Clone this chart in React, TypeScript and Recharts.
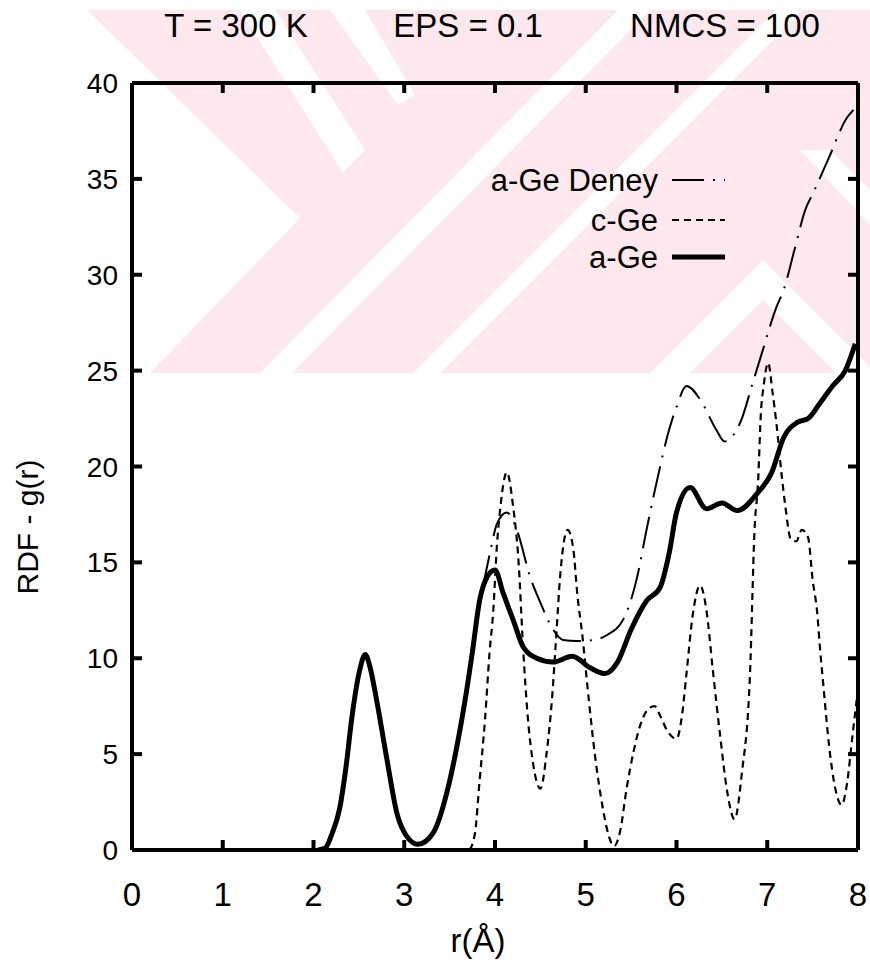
import React from 'react';
import { LineChart, Line, XAxis, YAxis, ReferenceLine } from 'recharts';

// tick values
const xTicks = [0, 1, 2, 3, 4, 5, 6, 7, 8];
const yTicks = [0, 5, 10, 15, 20, 25, 30, 35, 40];

// a-Ge (simulation, thick solid)
const aGeR = [2.05, 2.13, 2.2, 2.29, 2.36, 2.42, 2.51, 2.57, 2.63, 2.7, 2.81, 2.92, 3.03, 3.15, 3.32, 3.47, 3.58, 3.67, 3.75, 3.83, 3.92, 4.0, 4.09, 4.2, 4.31, 4.46, 4.64, 4.85, 5.05, 5.21, 5.35, 5.5, 5.67, 5.82, 5.92, 6.0, 6.15, 6.33, 6.5, 6.67, 6.89, 7.05, 7.18, 7.33, 7.45, 7.58, 7.72, 7.86, 7.97];
const aGeG = [0, 0.1, 0.8, 2.2, 4.4, 6.8, 9.4, 10.2, 9.4, 7.7, 4.7, 1.9, 0.7, 0.3, 0.9, 3.0, 5.4, 7.8, 10.3, 13.0, 14.3, 14.6, 13.4, 12.0, 10.6, 10.0, 9.8, 10.1, 9.5, 9.2, 9.8, 11.5, 13.0, 13.7, 15.5, 17.6, 18.9, 17.8, 18.1, 17.7, 18.6, 19.7, 21.5, 22.3, 22.5, 23.3, 24.2, 25.0, 26.4];

// a-Ge Deney (experiment, long dash)
const deneyR = [2.05, 2.13, 2.2, 2.29, 2.36, 2.42, 2.51, 2.57, 2.63, 2.7, 2.81, 2.92, 3.03, 3.15, 3.32, 3.47, 3.58, 3.67, 3.75, 3.83, 3.9, 3.95, 4.02, 4.13, 4.24, 4.39, 4.5, 4.64, 4.75, 4.9, 5.08, 5.23, 5.41, 5.56, 5.67, 5.74, 5.82, 5.9, 6.0, 6.11, 6.26, 6.44, 6.53, 6.62, 6.72, 6.83, 6.94, 7.1, 7.18, 7.3, 7.42, 7.51, 7.67, 7.88, 7.95];
const deneyG = [0, 0.1, 0.8, 2.2, 4.4, 6.8, 9.4, 10.1, 9.4, 7.8, 4.8, 2.0, 0.7, 0.3, 0.9, 3.0, 5.4, 7.8, 10.3, 12.8, 14.5, 15.6, 17.0, 17.6, 16.7, 14.2, 12.9, 11.5, 10.95, 10.9, 10.95, 11.2, 12.0, 14.1, 16.7, 18.3, 20.0, 21.6, 23.1, 24.2, 23.5, 21.9, 21.3, 21.6, 22.5, 24.2, 25.9, 28.3, 29.2, 31.3, 33.4, 34.3, 36.0, 38.2, 38.6];

// c-Ge (crystal, short dash)
const cGeR = [3.72, 3.78, 3.83, 3.89, 3.94, 3.98, 4.02, 4.06, 4.13, 4.2, 4.26, 4.31, 4.36, 4.42, 4.5, 4.57, 4.63, 4.67, 4.72, 4.8, 4.86, 4.91, 4.96, 5.03, 5.1, 5.18, 5.25, 5.31, 5.38, 5.45, 5.53, 5.6, 5.7, 5.76, 5.82, 5.9, 6.0, 6.06, 6.11, 6.18, 6.26, 6.33, 6.4, 6.48, 6.56, 6.64, 6.72, 6.81, 6.86, 6.9, 6.93, 6.96, 7.01, 7.06, 7.1, 7.16, 7.2, 7.26, 7.32, 7.38, 7.45, 7.5, 7.55, 7.58, 7.62, 7.68, 7.75, 7.82, 7.88, 7.94, 7.99];
const cGeG = [0, 0.9, 3.6, 6.8, 10.3, 12.4, 15.8, 17.9, 19.7, 17.9, 15.0, 10.5, 7.0, 4.5, 3.2, 5.1, 8.0, 10.8, 14.4, 16.7, 15.8, 13.2, 11.3, 8.0, 5.0, 2.4, 0.8, 0.2, 1.0, 3.2, 5.2, 6.5, 7.4, 7.5, 7.0, 6.2, 5.8, 7.0, 9.2, 12.3, 13.8, 12.5, 9.4, 6.0, 3.0, 1.6, 4.0, 9.2, 16.7, 19.3, 22.8, 24.2, 25.4, 23.8, 22.3, 19.5, 17.9, 16.2, 16.1, 16.7, 16.3, 14.1, 12.4, 10.6, 8.5, 5.5, 3.2, 2.35, 3.5, 6.0, 8.0];

const toPoints = (rs: number[], gs: number[]) => rs.map((r, i) => ({ r, g: gs[i] }));
const aGe = toPoints(aGeR, aGeG);
const deney = toPoints(deneyR, deneyG);
const cGe = toPoints(cGeR, cGeG);

const FONT = "'Liberation Sans', Arial, Helvetica, sans-serif";
const PINK = '#fde9ed';
const frame = { stroke: '#000', strokeWidth: 4 };

// inward tick length, in axis units (~10px)
const TX = 0.11;
const TY = 0.52;

const BottomTick = ({ x, y, payload }: any) => (
  <text x={x} y={y + 56} textAnchor="middle" fontFamily={FONT} fontSize={33} fill="#000">
    {payload.value}
  </text>
);
const LeftTick = ({ x, y, payload }: any) => (
  <text x={x - 14} y={y + 10} textAnchor="end" fontFamily={FONT} fontSize={28} fill="#000">
    {payload.value}
  </text>
);

// faint thesis watermark, titles and legend behind the transparent chart
const Backdrop = () => (
  <svg width={870} height={964} style={{ position: 'absolute', left: 0, top: 0 }}>
    <polygon points="87,10 870,10 870,373 150,373 300,218" fill={PINK} />
    <g fill="#fff">
      <polygon points="240,10 275,10 365,150 343,173" />
      <polygon points="330,10 365,10 415,95 398,105" />
      <polygon points="260,373 292,373 650,10 618,10" />
      <polygon points="413,373 440,373 803,10 776,10" />
      <polygon points="650,373 763,260 870,367 870,373 836,373 763,300 690,373" />
      <polygon points="800,150 830,150 870,190 870,225" />
    </g>
    <g fontFamily={FONT} fill="#000">
      <text x={236} y={37} fontSize={33} textAnchor="middle">T = 300 K</text>
      <text x={468} y={37} fontSize={33} textAnchor="middle">EPS = 0.1</text>
      <text x={725} y={37} fontSize={33} textAnchor="middle">NMCS = 100</text>
      <text x={478} y={952} fontSize={33} textAnchor="middle">r(Å)</text>
      <text x={38} y={527} fontSize={30} textAnchor="middle" transform="rotate(-90 38 527)">RDF - g(r)</text>
    </g>
    <g fontFamily={FONT} fontSize={31} fill="#000" textAnchor="end">
      <text x={658} y={191}>a-Ge Deney</text>
      <text x={658} y={231}>c-Ge</text>
      <text x={658} y={268}>a-Ge</text>
    </g>
    <line x1={672} y1={180} x2={725} y2={180} stroke="#000" strokeWidth={2} strokeDasharray="32 9 2 9" />
    <line x1={672} y1={220} x2={725} y2={220} stroke="#000" strokeWidth={2.2} strokeDasharray="7 5" />
    <line x1={672} y1={257} x2={725} y2={257} stroke="#000" strokeWidth={5} />
  </svg>
);

export default function App() {
  return (
    <div style={{ position: 'absolute', left: 0, top: 0, width: 870, height: 964, background: '#fff' }}>
      <Backdrop />
      <div style={{ position: 'absolute', left: 0, top: 0 }}>
        <LineChart width={870} height={964} margin={{ top: 82, right: 11, bottom: 0, left: 0 }}>
          <XAxis
            xAxisId="bottom"
            type="number"
            dataKey="r"
            domain={[0, 8]}
            ticks={xTicks}
            height={114}
            tickSize={0}
            tickMargin={0}
            tickLine={false}
            axisLine={frame}
            tick={<BottomTick />}
            interval={0}
            allowDataOverflow
          />
          <XAxis
            xAxisId="top"
            orientation="top"
            type="number"
            dataKey="r"
            domain={[0, 8]}
            ticks={xTicks}
            height={1}
            tickLine={false}
            axisLine={frame}
            tick={false}
            allowDataOverflow
          />
          <YAxis
            yAxisId="left"
            type="number"
            domain={[0, 40]}
            ticks={yTicks}
            width={132}
            tickSize={0}
            tickMargin={0}
            tickLine={false}
            axisLine={frame}
            tick={<LeftTick />}
            interval={0}
            allowDataOverflow
          />
          <YAxis
            yAxisId="right"
            orientation="right"
            type="number"
            domain={[0, 40]}
            ticks={yTicks}
            width={1}
            tickLine={false}
            axisLine={frame}
            tick={false}
            allowDataOverflow
          />
          {/* inward mirrored tick marks on all four sides */}
          {xTicks.map((t) => (
            <ReferenceLine key={`b${t}`} xAxisId="bottom" yAxisId="left" segment={[{ x: t, y: 0 }, { x: t, y: TY }]} stroke="#000" strokeWidth={4} />
          ))}
          {xTicks.map((t) => (
            <ReferenceLine key={`t${t}`} xAxisId="bottom" yAxisId="left" segment={[{ x: t, y: 40 }, { x: t, y: 40 - TY }]} stroke="#000" strokeWidth={4} />
          ))}
          {yTicks.map((v) => (
            <ReferenceLine key={`l${v}`} xAxisId="bottom" yAxisId="left" segment={[{ x: 0, y: v }, { x: TX, y: v }]} stroke="#000" strokeWidth={4} />
          ))}
          {yTicks.map((v) => (
            <ReferenceLine key={`r${v}`} xAxisId="bottom" yAxisId="left" segment={[{ x: 8, y: v }, { x: 8 - TX, y: v }]} stroke="#000" strokeWidth={4} />
          ))}
          {/* Deney is bound to the mirrored top/right axes (same scales) */}
          <Line
            name="a-Ge Deney"
            data={deney}
            dataKey="g"
            xAxisId="top"
            yAxisId="right"
            type="monotone"
            stroke="#000"
            strokeWidth={2}
            strokeDasharray="32 9 2 9"
            dot={false}
            isAnimationActive={false}
          />
          <Line
            name="c-Ge"
            data={cGe}
            dataKey="g"
            xAxisId="bottom"
            yAxisId="left"
            type="monotone"
            stroke="#000"
            strokeWidth={2.2}
            strokeDasharray="7 5"
            dot={false}
            isAnimationActive={false}
          />
          <Line
            name="a-Ge"
            data={aGe}
            dataKey="g"
            xAxisId="bottom"
            yAxisId="left"
            type="monotone"
            stroke="#000"
            strokeWidth={5}
            dot={false}
            isAnimationActive={false}
          />
        </LineChart>
      </div>
    </div>
  );
}
